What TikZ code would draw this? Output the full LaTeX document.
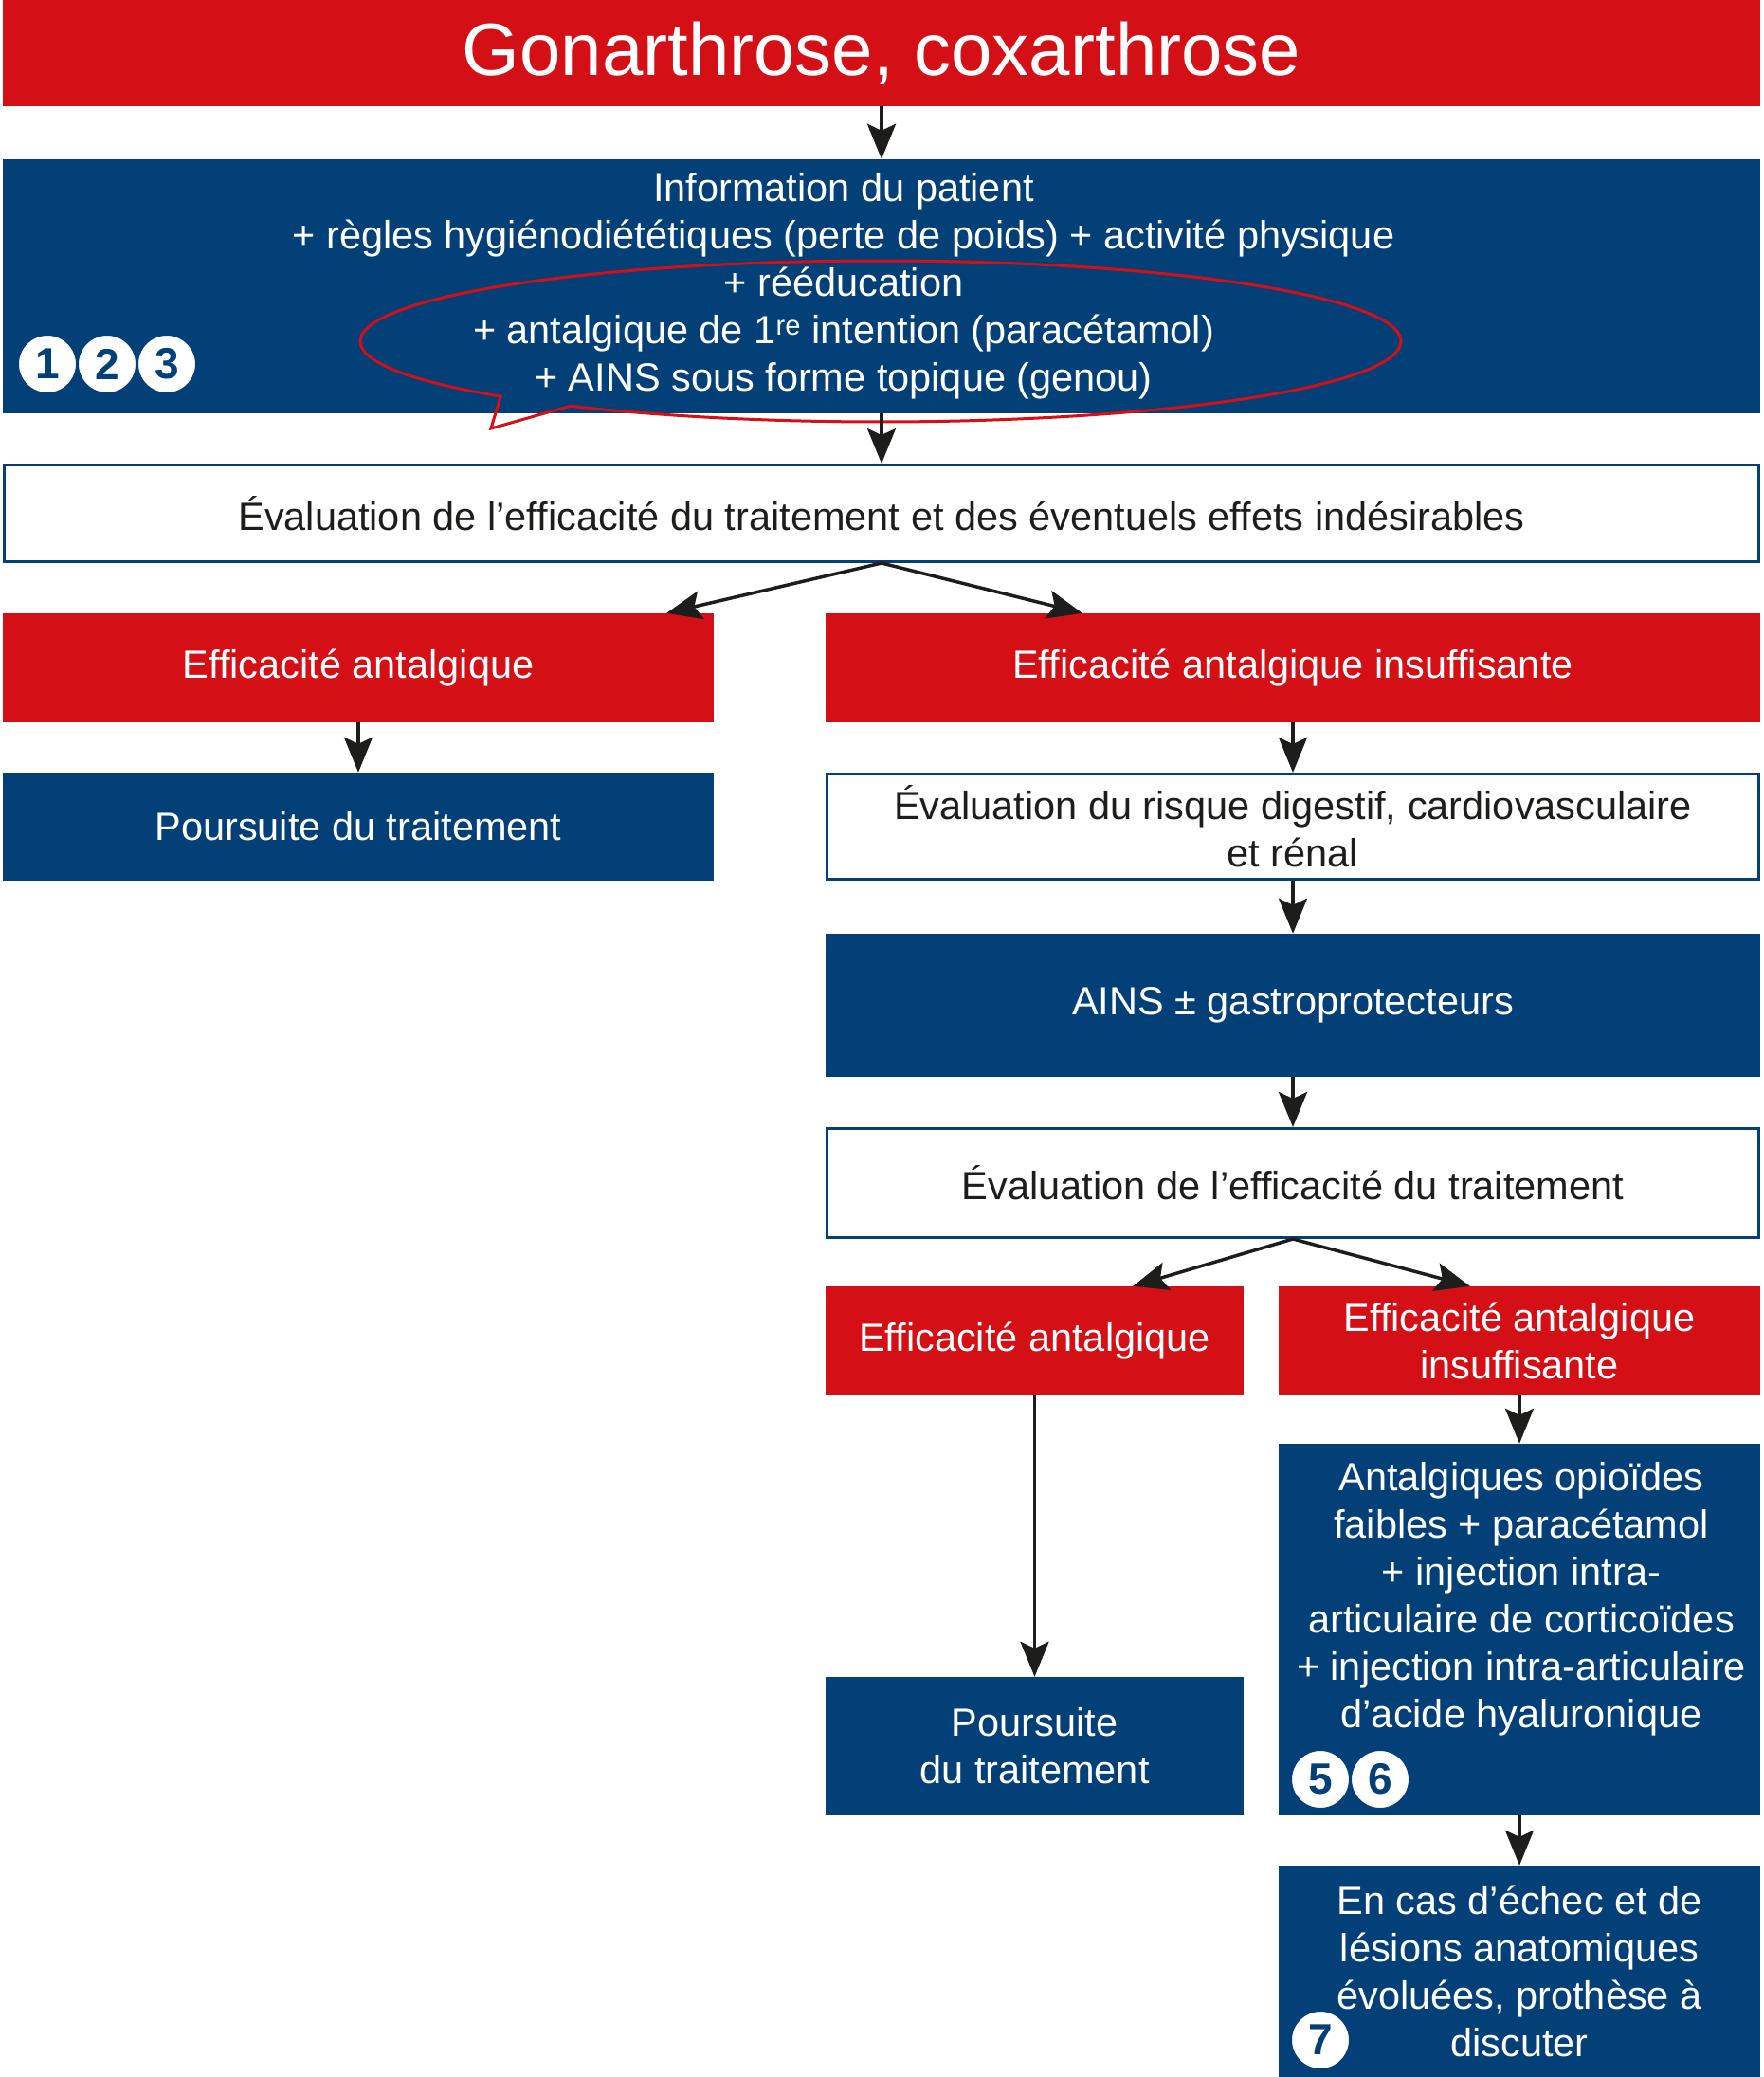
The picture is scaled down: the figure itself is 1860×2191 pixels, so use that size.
\documentclass[tikz,border=0pt]{standalone}
\usepackage{fontspec}
\setmainfont{Liberation Sans}
\usetikzlibrary{arrows.meta}
\definecolor{gred}{RGB}{213,15,22}
\definecolor{gblue}{RGB}{3,64,119}
\definecolor{garrow}{RGB}{29,29,27}

\begin{document}
\begin{tikzpicture}[x=1pt, y=-1pt,
  box/.style={rectangle, inner sep=0pt, align=center, font=\fontsize{41.5}{50}\selectfont},
  redbox/.style={box, fill=gred, text=white},
  bluebox/.style={box, fill=gblue, text=white},
  whitebox/.style={box, fill=white, draw=gblue, line width=3pt, text=garrow},
  badge/.style={circle, fill=white, draw=gblue, line width=2pt, minimum size=62pt,
    inner sep=0pt, text=gblue, font=\fontsize{46}{46}\selectfont\bfseries},
  arr/.style={draw=garrow, line width=3.5pt, -{Stealth[length=37pt, width=30pt, inset=7pt]}}]
  \useasboundingbox (0,0) rectangle (1860,2191);

  % top of the chart
  \node[redbox, minimum width=1854pt, minimum height=112pt,
    font=\fontsize{78}{78}\selectfont] (title) at (930,56) {Gonarthrose, coxarthrose};
  \node[bluebox, minimum width=1854pt, minimum height=268pt] (info) at (930,302) {};
  \node[box, text=white] (infotext) at (890,302) {Information du patient\\
    + règles hygiénodiététiques (perte de poids) + activité physique\\
    + rééducation\\
    + antalgique de 1\textsuperscript{re} intention (paracétamol)\\
    + AINS sous forme topique (genou)};
  \draw[gred, line width=3pt] ([shift={(136.9:549 and 85)}]929,360)
    arc[start angle=136.9, end angle=486.6, x radius=549, y radius=85]
    -- (518,452) -- cycle;
  \node[badge] (b1) at (50,384) {1};
  \node[badge] (b2) at (113,384) {2};
  \node[badge] (b3) at (176,384) {3};

  \node[whitebox, minimum width=1851pt, minimum height=102pt] (eval1) at (930,541.5)
    {Évaluation de l’efficacité du traitement et des éventuels effets indésirables};

  % left branch
  \node[redbox, minimum width=750pt, minimum height=115pt] (eff1) at (378,704.5) {Efficacité antalgique};
  \node[bluebox, minimum width=750pt, minimum height=114pt] (suite1) at (378,872) {Poursuite du traitement};

  % right branch
  \node[redbox, minimum width=986pt, minimum height=115pt] (insuf1) at (1364,704.5)
    {Efficacité antalgique insuffisante};
  \node[whitebox, minimum width=983pt, minimum height=111pt] (risk) at (1364,872)
    {Évaluation du risque digestif, cardiovasculaire\\et rénal};
  \node[bluebox, minimum width=986pt, minimum height=151pt] (ains) at (1364,1060.5)
    {AINS ± gastroprotecteurs};
  \node[whitebox, minimum width=983pt, minimum height=115pt] (eval2) at (1364,1248)
    {Évaluation de l’efficacité du traitement};
  \node[redbox, minimum width=441pt, minimum height=115pt] (eff2) at (1091.5,1414.5)
    {Efficacité antalgique};
  \node[redbox, minimum width=508pt, minimum height=115pt] (insuf2) at (1603,1414.5)
    {Efficacité antalgique\\insuffisante};
  \node[bluebox, minimum width=441pt, minimum height=146pt] (suite2) at (1091.5,1842)
    {Poursuite\\du traitement};
  \node[bluebox, minimum width=508pt, minimum height=392pt] (opio) at (1603,1719) {};
  \node[box, text=white] (opiotext) at (1605,1687) {Antalgiques opioïdes\\
    faibles + paracétamol\\
    + injection intra-\\
    articulaire de corticoïdes\\
    + injection intra-articulaire\\
    d’acide hyaluronique};
  \node[badge] (b5) at (1393,1877) {5};
  \node[badge] (b6) at (1456,1877) {6};
  \node[bluebox, minimum width=508pt, minimum height=223pt] (proth) at (1603,2079.5)
    {En cas d’échec et de\\lésions anatomiques\\évoluées, prothèse à\\discuter};
  \node[badge] (b7) at (1393,2152) {7};

  % arrows
  \draw[arr] (title) -- (info);
  \draw[arr] (info) -- (eval1);
  \draw[arr] (eval1.south) -- ([xshift=-50pt]eff1.north east);
  \draw[arr] (eval1.south) -- ([xshift=271pt]insuf1.north west);
  \draw[arr] (eff1) -- (suite1);
  \draw[arr] (insuf1) -- (risk);
  \draw[arr] (risk) -- (ains);
  \draw[arr] (ains) -- (eval2);
  \draw[arr] (eval2.south) -- ([xshift=-117pt]eff2.north east);
  \draw[arr] (eval2.south) -- ([xshift=202pt]insuf2.north west);
  \draw[arr] (eff2) -- (suite2);
  \draw[arr] (insuf2) -- (opio);
  \draw[arr] (opio) -- (proth);
\end{tikzpicture}
\end{document}
